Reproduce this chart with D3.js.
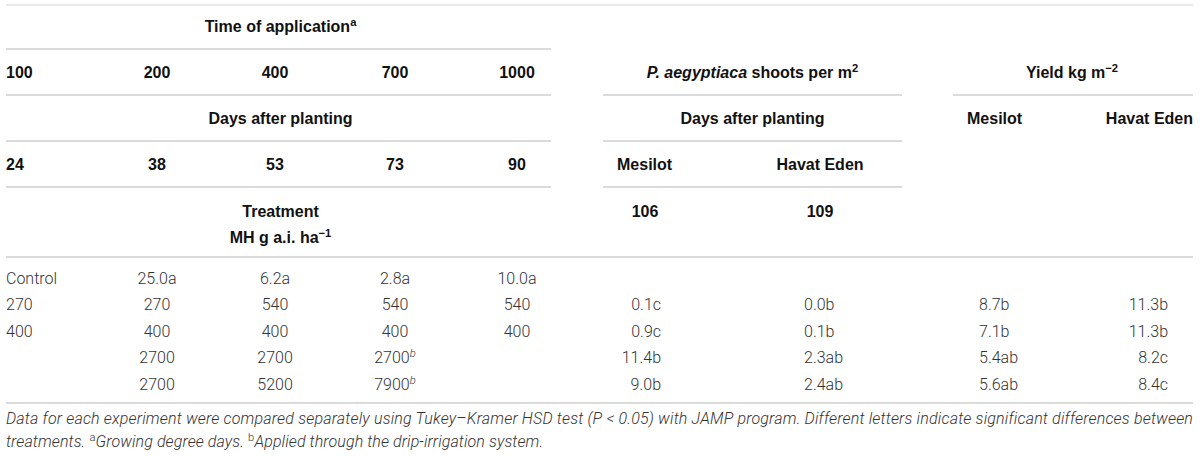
<!DOCTYPE html>
<html>
<head>
<meta charset="utf-8">
<script src="https://cdn.jsdelivr.net/npm/d3@7"></script>
<style>
  html, body { margin: 0; padding: 0; background: #fff; }
  svg text { font-family: "Liberation Sans", Arial, Helvetica, sans-serif; }
  .hd { font-weight: bold; font-size: 16px; fill: #111; }
  .cell { font-family: Roboto, "Liberation Sans", sans-serif; font-weight: 300; font-size: 16px; fill: #333; }
  .note { font-family: Roboto, "Liberation Sans", sans-serif; font-weight: 300; font-style: italic; font-size: 16px; letter-spacing: 0.1px; fill: #333; }
  .rule { stroke: #cfcfcf; stroke-width: 1.5; }
</style>
</head>
<body>
<svg id="tbl" width="1200" height="456"></svg>
<script>
// ---- table values ----
const gddTimes = ["100", "200", "400", "700", "1000"];
const daysAfterPlanting = ["24", "38", "53", "73", "90"];
const cultivars = ["Mesilot", "Havat Eden"];
const shootDays = ["106", "109"];

const rateTreatment = ["Control", "270", "400", "", ""];
const rateAt200 = ["25.0a", "270", "400", "2700", "2700"];
const rateAt400 = ["6.2a", "540", "400", "2700", "5200"];
const rateAt700 = ["2.8a", "540", "400", "2700", "7900"];
const dripAt700 = [false, false, false, true, true];
const rateAt1000 = ["10.0a", "540", "400", "", ""];
const shootsMesilot = ["", "0.1c", "0.9c", "11.4b", "9.0b"];
const shootsHavatEden = ["", "0.0b", "0.1b", "2.3ab", "2.4ab"];
const yieldMesilot = ["", "8.7b", "7.1b", "5.4ab", "5.6ab"];
const yieldHavatEden = ["", "11.3b", "11.3b", "8.2c", "8.4c"];

const noteLine1 = "Data for each experiment were compared separately using Tukey\u2013Kramer HSD test (P < 0.05) with JAMP program. Different letters indicate significant differences between";

// ---- layout ----
const svg = d3.select("#tbl");

const ruleY = d3.scaleOrdinal()
    .domain(["top", "r1", "r2", "r3", "r4", "mid", "bottom"])
    .range([5, 49, 95, 141, 187, 257, 403]);
const rowY = d3.scalePoint()
    .domain(d3.range(rateTreatment.length))
    .range([278, 384]);
// header rows (the last two lines sit closer together)
const headYs = {title: 26, gdd: 72, days: 118, dap: 164, trt: 211, mh: 237};

const colX = d3.scaleOrdinal()
    .domain(["c0", "c1", "c2", "c3", "c4", "c5", "c6", "c7", "c8"])
    .range([6, 157, 275, 395, 517, 661, 804, 979, 1168]);

// spans of the rules
const leftSpan = [6, 551], midSpan = [603, 902], rightSpan = [953, 1193], fullSpan = [6, 1193];
const rules = [
  {y: "top", s: fullSpan},
  {y: "r1", s: leftSpan},
  {y: "r2", s: leftSpan}, {y: "r2", s: midSpan}, {y: "r2", s: rightSpan},
  {y: "r3", s: leftSpan}, {y: "r3", s: midSpan},
  {y: "r4", s: leftSpan}, {y: "r4", s: midSpan},
  {y: "mid", s: fullSpan},
  {y: "bottom", s: fullSpan}
];

svg.selectAll("line.rule")
  .data(rules)
  .join("line")
    .attr("class", "rule")
    .attr("x1", d => d.s[0])
    .attr("x2", d => d.s[1])
    .attr("y1", d => ruleY(d.y))
    .attr("y2", d => ruleY(d.y))
    .style("stroke", d => d.y === "top" ? "#e2e2e2" : null);

// text helper: parts = [{t, sup, it, up}]
function addText(cls, x, y, anchor, parts) {
  const t = svg.append("text")
      .attr("class", cls)
      .attr("x", x)
      .attr("y", y)
      .attr("dy", "0.36em")
      .attr("text-anchor", anchor);
  parts.forEach(p => {
    const s = t.append("tspan").text(p.t);
    if (p.sup) s.attr("baseline-shift", "super").style("font-size", "0.7em");
    if (p.it) s.style("font-style", "italic");
    if (p.up) s.style("font-style", "normal");
  });
  return t;
}

// ---- headers ----
const midLeft = (leftSpan[0] + leftSpan[1]) / 2 + 2;
const midMid = (midSpan[0] + midSpan[1]) / 2;
const midRight = (rightSpan[0] + rightSpan[1]) / 2 - 1;

addText("hd", midLeft, headYs.title, "middle", [{t: "Time of application"}, {t: "a", sup: true}]);

gddTimes.forEach((g, i) => {
  addText("hd", colX("c" + i), headYs.gdd, i === 0 ? "start" : "middle", [{t: g}]);
});
daysAfterPlanting.forEach((g, i) => {
  addText("hd", colX("c" + i), headYs.dap, i === 0 ? "start" : "middle", [{t: g}]);
});

addText("hd", midMid, headYs.gdd, "middle",
  [{t: "P. aegyptiaca", it: true}, {t: " shoots per m"}, {t: "2", sup: true}]);
addText("hd", midRight, headYs.gdd, "middle",
  [{t: "Yield kg m"}, {t: "\u22122", sup: true}]);

addText("hd", midLeft, headYs.days, "middle", [{t: "Days after planting"}]);
addText("hd", midMid, headYs.days, "middle", [{t: "Days after planting"}]);

// cultivar names
addText("hd", 617, headYs.dap, "start", [{t: cultivars[0]}]);
addText("hd", 820, headYs.dap, "middle", [{t: cultivars[1]}]);
addText("hd", 967, headYs.days, "start", [{t: cultivars[0]}]);
addText("hd", rightSpan[1], headYs.days, "end", [{t: cultivars[1]}]);

addText("hd", midLeft, headYs.trt, "middle", [{t: "Treatment"}]);
addText("hd", midLeft, headYs.mh, "middle", [{t: "MH g a.i. ha"}, {t: "\u22121", sup: true}]);
addText("hd", 645, headYs.trt, "middle", [{t: shootDays[0]}]);
addText("hd", 820, headYs.trt, "middle", [{t: shootDays[1]}]);

// ---- body ----
const bodyCols = [
  {key: "c0", vals: rateTreatment, anchor: "start"},
  {key: "c1", vals: rateAt200, anchor: "middle"},
  {key: "c2", vals: rateAt400, anchor: "middle"},
  {key: "c3", vals: rateAt700, anchor: "middle", sup: dripAt700},
  {key: "c4", vals: rateAt1000, anchor: "middle"},
  {key: "c5", vals: shootsMesilot, anchor: "end"},
  {key: "c6", vals: shootsHavatEden, anchor: "start"},
  {key: "c7", vals: yieldMesilot, anchor: "start"},
  {key: "c8", vals: yieldHavatEden, anchor: "end"}
];

bodyCols.forEach(col => {
  col.vals.forEach((v, i) => {
    if (!v) return;
    const parts = [{t: v}];
    if (col.sup && col.sup[i]) parts.push({t: "b", sup: true, it: true});
    addText("cell", colX(col.key), rowY(i), col.anchor, parts);
  });
});

// ---- footnote ----
addText("note", 6, 418, "start", [{t: noteLine1}])
    .attr("textLength", 1187)
    .attr("lengthAdjust", "spacing");
addText("note", 6, 441, "start", [
  {t: "treatments. "}, {t: "a", sup: true, up: true}, {t: "Growing degree days. "},
  {t: "b", sup: true, up: true}, {t: "Applied through the drip-irrigation system."}
]);
</script>
</body>
</html>
